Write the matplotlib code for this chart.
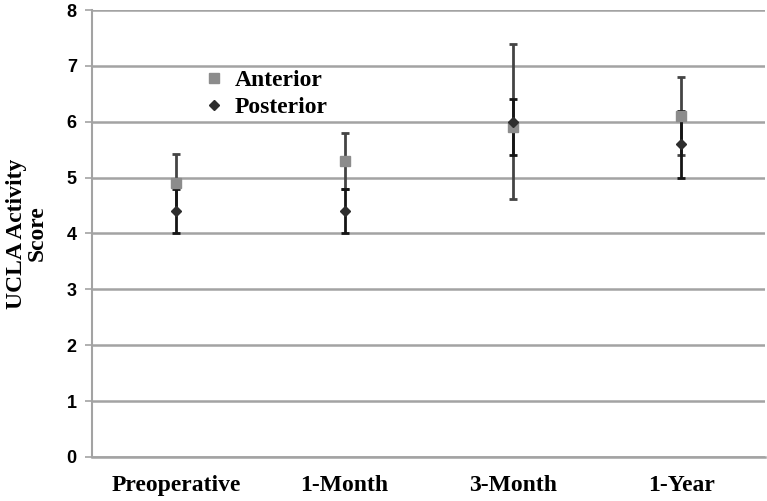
import numpy as np
from matplotlib import pyplot as plt

periods = ['Preoperative', '1-Month', '3-Month', '1-Year']

anterior = [4.9, 5.3, 5.9, 6.1]
ant_lo = [0.5, 0.5, 1.28, 0.7]
ant_hi = [0.52, 0.5, 1.5, 0.7]

posterior = [4.4, 4.4, 6.0, 5.6]
post_lo = [0.4, 0.4, 0.6, 0.6]
post_hi = [0.4, 0.4, 0.4, 0.6]

yticks = [0, 1, 2, 3, 4, 5, 6, 7, 8]

serif = 'Liberation Serif'
fig = plt.figure(figsize=(7.67, 5.01), dpi=100)
ax = fig.add_axes([0.12, 0.088, 0.878, 0.892])

x = np.arange(len(periods))
grid_c = '#a3a3a3'

# error bars first, markers on top
ax.errorbar(x, anterior, yerr=[ant_lo, ant_hi], fmt='none', ecolor='#444444',
            elinewidth=2, capsize=3, capthick=2, zorder=3)
ax.errorbar(x, posterior, yerr=[post_lo, post_hi], fmt='none', ecolor='#151515',
            elinewidth=2, capsize=3, capthick=2, zorder=3)
ax.plot(x, anterior, 's', color='#8c8c8c', markersize=7.5, linestyle='none',
        label='Anterior', zorder=4)
ax.plot(x, posterior, 'D', color='#2e2e2e', markersize=5.5, linestyle='none',
        label='Posterior', zorder=5)

ax.set_xlim(-0.5, 3.5)
ax.set_ylim(0, 8)
ax.set_yticks(yticks)
ax.set_xticks(x)
ax.set_xticklabels(periods, fontfamily=serif, fontweight='bold', fontsize=17)
ax.tick_params(axis='x', length=0, pad=13)
ax.tick_params(axis='y', length=5, width=1.2, color=grid_c, pad=6)
for lab in ax.get_yticklabels():
    lab.set_fontfamily('Liberation Sans')
    lab.set_fontweight('bold')
    lab.set_fontsize(13)

ax.yaxis.grid(True, color=grid_c, linewidth=1.8)
ax.set_axisbelow(True)
for s in ['top', 'right']:
    ax.spines[s].set_visible(False)
ax.spines['left'].set_color(grid_c)
ax.spines['left'].set_linewidth(1.5)
ax.spines['bottom'].set_color(grid_c)
ax.spines['bottom'].set_linewidth(1.8)

ax.set_ylabel('UCLA Activity\nScore', fontfamily=serif, fontweight='bold',
              fontsize=17, linespacing=1.0)
ax.yaxis.set_label_coords(-0.066, 0.5)

ax.legend(loc='upper left', bbox_to_anchor=(0.13, 0.915), frameon=False,
          prop={'family': serif, 'weight': 'bold', 'size': 17},
          handletextpad=0.35, labelspacing=0.25, handlelength=1.1)

fig.savefig('out.png', dpi=100)
